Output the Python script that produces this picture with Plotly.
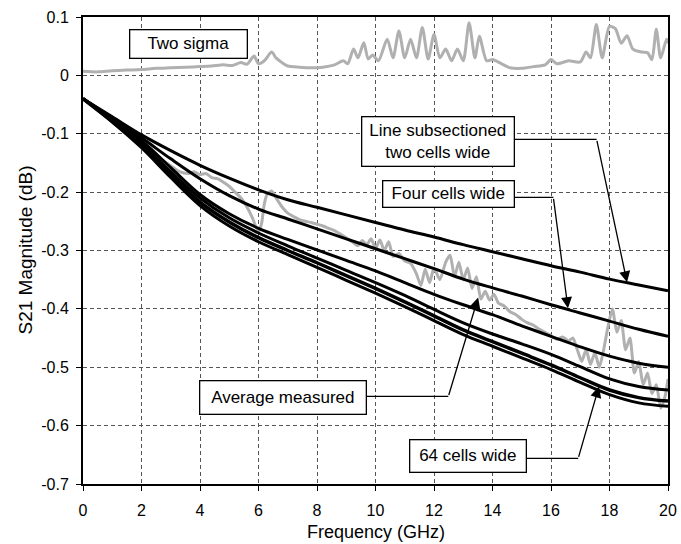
import plotly.graph_objects as go

# ---------------- data ----------------
freq = list(range(0, 21))

two_cells = [-0.04, -0.071, -0.102, -0.129, -0.154, -0.176, -0.196, -0.213, -0.226, -0.239, -0.252,
             -0.265, -0.277, -0.29, -0.302, -0.314, -0.326, -0.337, -0.349, -0.359, -0.369]
four_cells = [-0.04, -0.073, -0.107, -0.143, -0.177, -0.206, -0.229, -0.246, -0.263, -0.28, -0.297,
              -0.314, -0.331, -0.349, -0.364, -0.378, -0.393, -0.407, -0.421, -0.435, -0.447]
eight_cells = [-0.04, -0.075, -0.112, -0.158, -0.204, -0.237, -0.262, -0.281, -0.299, -0.317, -0.335,
               -0.355, -0.375, -0.393, -0.41, -0.429, -0.447, -0.465, -0.481, -0.493, -0.500]
sixteen_cells = [-0.04, -0.077, -0.117, -0.165, -0.21, -0.244, -0.27, -0.292, -0.313, -0.334, -0.355,
                 -0.377, -0.401, -0.424, -0.443, -0.46, -0.478, -0.499, -0.52, -0.533, -0.539]
thirtytwo_cells = [-0.04, -0.079, -0.121, -0.17, -0.217, -0.251, -0.278, -0.3, -0.321, -0.343, -0.365,
                   -0.388, -0.412, -0.436, -0.456, -0.476, -0.496, -0.518, -0.539, -0.552, -0.558]
sixtyfour_cells = [-0.04, -0.08, -0.124, -0.175, -0.223, -0.258, -0.285, -0.307, -0.329, -0.351, -0.373,
                   -0.396, -0.42, -0.444, -0.464, -0.484, -0.504, -0.526, -0.547, -0.561, -0.567]

meas_freq = [0, 0.5, 1.0, 1.5, 2.0, 2.5, 3.0, 3.3, 3.6, 3.8, 4.0, 4.2, 4.4, 4.6, 4.8, 5.0, 5.2, 5.4, 5.6,
             5.8, 5.9, 6.0, 6.1, 6.2, 6.3, 6.45, 6.6, 6.8, 7.0, 7.2, 7.4, 7.6, 7.8, 8.0, 8.2, 8.4, 8.6,
             8.8, 9.0, 9.2, 9.4, 9.55, 9.7, 9.85, 10.0, 10.15, 10.3, 10.45, 10.6, 10.8, 11.0, 11.2,
             11.4, 11.55, 11.7, 11.85, 12.0, 12.2, 12.4, 12.55, 12.7, 12.85, 13.0, 13.15, 13.3, 13.45,
             13.6, 13.75, 13.9, 14.05, 14.2, 14.4, 14.6, 14.8, 15.0, 15.2, 15.4, 15.6, 15.8, 16.0,
             16.2, 16.4, 16.6, 16.75, 16.9, 17.05, 17.2, 17.35, 17.5, 17.65, 17.8, 17.95, 18.1, 18.25,
             18.4, 18.55, 18.7, 18.85, 19.0, 19.15, 19.3, 19.45, 19.6, 19.75, 19.9, 20.0]
avg_measured = [-0.04, -0.057, -0.074, -0.093, -0.113, -0.137, -0.155, -0.165, -0.168, -0.165, -0.17,
                -0.168, -0.175, -0.177, -0.183, -0.19, -0.2, -0.21, -0.225, -0.245, -0.258, -0.268,
                -0.255, -0.22, -0.203, -0.198, -0.21, -0.225, -0.236, -0.242, -0.247, -0.25, -0.252,
                -0.255, -0.258, -0.262, -0.266, -0.272, -0.278, -0.285, -0.292, -0.283, -0.29, -0.28,
                -0.296, -0.282, -0.3, -0.285, -0.31, -0.305, -0.318, -0.322, -0.34, -0.36, -0.332,
                -0.355, -0.33, -0.35, -0.32, -0.308, -0.345, -0.32, -0.35, -0.33, -0.365, -0.345,
                -0.383, -0.37, -0.385, -0.375, -0.39, -0.395, -0.405, -0.41, -0.418, -0.424, -0.428,
                -0.435, -0.44, -0.446, -0.452, -0.448, -0.455, -0.45, -0.47, -0.49, -0.47, -0.495,
                -0.475, -0.5, -0.47, -0.43, -0.40, -0.44, -0.42, -0.47, -0.45, -0.51, -0.49, -0.53,
                -0.51, -0.545, -0.53, -0.57, -0.55, -0.52]

sigma_freq = [0, 0.5, 1, 1.5, 2, 2.5, 3, 3.5, 4, 4.4, 4.8, 5.1, 5.4, 5.6, 5.85, 6.0, 6.2, 6.45, 6.6,
              6.8, 7.0, 7.4, 7.8, 8.2, 8.6, 8.9, 9.05, 9.25, 9.4, 9.6, 9.75, 9.9, 10.1, 10.4, 10.6,
              10.8, 11.0, 11.2, 11.4, 11.6, 11.8, 12.0, 12.2, 12.4, 12.6, 12.8, 13.0, 13.2, 13.4,
              13.55, 13.8, 14.0, 14.3, 14.6, 15.0, 15.4, 15.8, 16.0, 16.2, 16.6, 17.0, 17.2, 17.35,
              17.55, 17.75, 18.0, 18.2, 18.4, 18.6, 18.8, 19.1, 19.3, 19.45, 19.6, 19.75, 19.95, 20]
two_sigma = [0.007, 0.006, 0.008, 0.009, 0.010, 0.012, 0.013, 0.014, 0.015, 0.016, 0.018, 0.017,
             0.022, 0.019, 0.033, 0.02, 0.025, 0.04, 0.03, 0.022, 0.016, 0.014, 0.013, 0.014, 0.018,
             0.025, 0.02, 0.045, 0.03, 0.056, 0.028, 0.035, 0.025, 0.062, 0.03, 0.076, 0.03, 0.062,
             0.03, 0.082, 0.028, 0.07, 0.03, 0.045, 0.025, 0.045, 0.025, 0.09, 0.03, 0.067, 0.025,
             0.027, 0.02, 0.013, 0.012, 0.015, 0.018, 0.027, 0.02, 0.025, 0.023, 0.04, 0.03, 0.087,
             0.03, 0.084, 0.08, 0.055, 0.068, 0.045, 0.04, 0.039, 0.027, 0.079, 0.03, 0.062, 0.055]

y_ticks = [-0.7, -0.6, -0.5, -0.4, -0.3, -0.2, -0.1, 0, 0.1]
y_ticktext = ["-0.7", "-0.6", "-0.5", "-0.4", "-0.3", "-0.2", "-0.1", "0", "0.1"]
x_ticks = list(range(0, 21, 2))
x_title = "Frequency (GHz)"
y_title = "S21 Magnitude (dB)"

FONT = "Arial, Liberation Sans, sans-serif"
GRAY = "#b0b0b0"

fig = go.Figure()
fig.add_trace(go.Scatter(x=sigma_freq, y=two_sigma, mode="lines",
                         line=dict(color=GRAY, width=3, shape="spline", smoothing=0.7),
                         name="Two sigma"))
fig.add_trace(go.Scatter(x=meas_freq, y=avg_measured, mode="lines",
                         line=dict(color=GRAY, width=3, shape="spline", smoothing=0.6),
                         name="Average measured"))
for name, ys, w in [("Two cells wide", two_cells, 3), ("Four cells wide", four_cells, 3),
                    ("Eight cells wide", eight_cells, 3), ("16 cells wide", sixteen_cells, 3),
                    ("32 cells wide", thirtytwo_cells, 3.5), ("64 cells wide", sixtyfour_cells, 3)]:
    fig.add_trace(go.Scatter(x=freq, y=ys, mode="lines", name=name,
                             line=dict(color="black", width=w, shape="spline", smoothing=1.0)))

# label boxes
labels = [
    dict(text="Two sigma", x=3.59, y=0.054, w=116, h=27),
    dict(text="Line subsectioned<br>two cells wide", x=12.14, y=-0.1125, w=151, h=48),
    dict(text="Four cells wide", x=12.51, y=-0.2038, w=130, h=25),
    dict(text="Average measured", x=6.84, y=-0.5526, w=165, h=32),
    dict(text="64 cells wide", x=13.17, y=-0.652, w=115, h=31),
]
for lb in labels:
    fig.add_annotation(x=lb["x"], y=lb["y"], xref="x", yref="y", text=lb["text"],
                       showarrow=False, bgcolor="white", bordercolor="black", borderwidth=1.3,
                       borderpad=0, width=lb["w"], height=lb["h"],
                       font=dict(family=FONT, size=17, color="black"), align="center")

# connectors: (box edge x, y, bend x, tip x, tip y)
connectors = [
    (14.74, -0.1096, 17.56, 18.6, -0.3545),
    (14.77, -0.209, 16.08, 16.58, -0.399),
    (9.7, -0.55, 12.49, 13.51, -0.3806),
    (15.17, -0.656, 16.93, 17.64, -0.533),
]
for x0, y0, xb, xt, yt in connectors:
    fig.add_shape(type="line", xref="x", yref="y", x0=x0, y0=y0, x1=xb, y1=y0,
                  line=dict(color="black", width=1.3))
    fig.add_annotation(x=xt, y=yt, ax=xb, ay=y0, xref="x", yref="y", axref="x", ayref="y",
                       text="", showarrow=True, arrowhead=2, arrowsize=1.7, arrowwidth=1.3,
                       arrowcolor="black")

# axis titles as annotations (fixed placement)
fig.add_annotation(x=0.5, y=0, xref="paper", yref="paper", text=x_title, showarrow=False,
                   xanchor="center", yanchor="middle", yshift=-48,
                   font=dict(family=FONT, size=18, color="black"))
fig.add_annotation(x=0, y=0.5, xref="paper", yref="paper", text=y_title, showarrow=False,
                   xanchor="center", yanchor="middle", xshift=-58, textangle=-90,
                   font=dict(family=FONT, size=19, color="black"))

axis_common = dict(showgrid=True, gridcolor="#555555", griddash="4px,3px", gridwidth=1,
                   showline=True, linecolor="black", linewidth=2, mirror=True,
                   ticks="outside", ticklen=5, tickcolor="black", zeroline=False,
                   automargin=False,
                   tickfont=dict(family=FONT, size=16, color="black"))

fig.update_xaxes(range=[0, 20], tickvals=x_ticks, ticklabelstandoff=6, **axis_common)
fig.update_yaxes(range=[-0.7, 0.1], tickvals=y_ticks, ticktext=y_ticktext, ticklabelstandoff=4,
                 **axis_common)

fig.update_layout(width=681, height=544, margin=dict(l=83, r=13, t=17, b=60),
                  plot_bgcolor="white", paper_bgcolor="white", showlegend=False,
                  font=dict(family=FONT, color="black"))

fig.write_html("out.html")
